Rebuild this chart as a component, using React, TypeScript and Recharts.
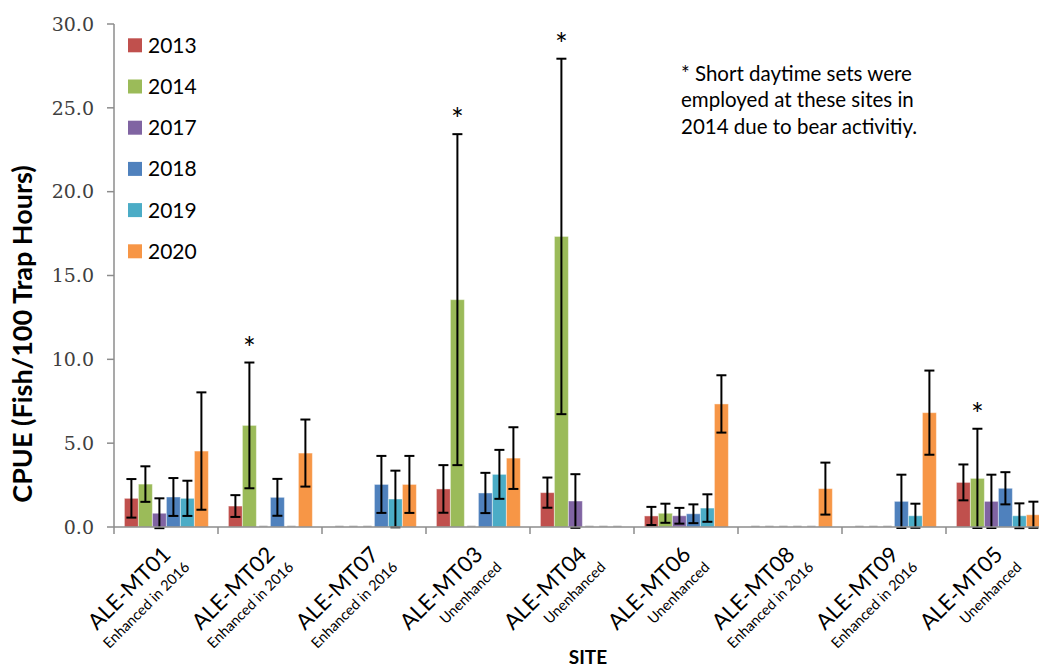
import React from 'react';
import { BarChart, Bar, XAxis, YAxis, ErrorBar, LabelList } from 'recharts';

const sites = ['ALE-MT01', 'ALE-MT02', 'ALE-MT07', 'ALE-MT03', 'ALE-MT04', 'ALE-MT06', 'ALE-MT08', 'ALE-MT09', 'ALE-MT05'];
const siteNotes = ['Enhanced in 2016', 'Enhanced in 2016', 'Enhanced in 2016', 'Unenhanced', 'Unenhanced', 'Unenhanced', 'Enhanced in 2016', 'Enhanced in 2016', 'Unenhanced'];
const years = ['2013', '2014', '2017', '2018', '2019', '2020'];
const colors = ['#C0504D', '#9BBB59', '#8064A2', '#4F81BD', '#4BACC6', '#F79646'];

const cpue2013 = [1.71, 1.25, 0, 2.27, 2.05, 0.66, 0, 0, 2.66];
const err2013 = [1.15, 0.65, 0, 1.42, 0.9, 0.54, 0, 0, 1.07];
const cpue2014 = [2.56, 6.06, 0, 13.56, 17.33, 0.82, 0, 0, 2.9];
const err2014 = [1.06, 3.75, 0, 9.87, 10.6, 0.57, 0, 0, 2.96];
const cpue2017 = [0.82, 0, 0, 0, 1.55, 0.67, 0, 0, 1.53];
const err2017 = [0.89, 0, 0, 0, 1.6, 0.47, 0, 0, 1.59];
const cpue2018 = [1.79, 1.77, 2.54, 2.03, 0, 0.79, 0, 1.53, 2.31];
const err2018 = [1.13, 1.1, 1.7, 1.2, 0, 0.56, 0, 1.59, 0.96];
const cpue2019 = [1.71, 0, 1.67, 3.14, 0, 1.13, 0, 0.67, 0.67];
const err2019 = [1.05, 0, 1.69, 1.46, 0, 0.82, 0, 0.72, 0.74];
const cpue2020 = [4.53, 4.41, 2.54, 4.11, 0, 7.34, 2.29, 6.82, 0.73];
const err2020 = [3.5, 2.0, 1.7, 1.84, 0, 1.71, 1.55, 2.51, 0.78];

const shortSets2014 = [false, true, false, true, true, false, false, false, true];
const yTicks = [0, 5, 10, 15, 20, 25, 30];

const cpueByYear = [cpue2013, cpue2014, cpue2017, cpue2018, cpue2019, cpue2020];
const errByYear = [err2013, err2014, err2017, err2018, err2019, err2020];

const rows = sites.map((site, i) => {
  const r: any = { site };
  years.forEach((yr, k) => {
    r['v' + yr] = cpueByYear[k][i];
    r['e' + yr] = errByYear[k][i] > 0 ? errByYear[k][i] : null;
  });
  return r;
});

const AXIS_GREY = '#8C8C8C';

const BarShape = (props: any) => {
  const { x, y, width, height, fill } = props;
  if (!height || Math.abs(height) < 0.5) {
    return (
      <line x1={x + width * 0.2} x2={x + width * 0.8} y1={y - 0.5} y2={y - 0.5} stroke="#C8C8C8" strokeWidth={2} />
    );
  }
  return <rect x={x} y={y} width={width} height={height} fill={fill} stroke="rgba(255,255,255,0.45)" strokeWidth={1} />;
};

const SiteTick = (props: any) => {
  const { x, y, payload } = props;
  const half = payload && typeof payload.offset === 'number' && payload.offset > 0 ? payload.offset : 52;
  const i = sites.indexOf(payload.value);
  return (
    <g>
      <line x1={x - half} x2={x - half} y1={y} y2={y + 7} stroke={AXIS_GREY} strokeWidth={1.5} />
      <g transform={`translate(${x + 6},${y + 29}) rotate(-45)`}>
        <text x={0} y={0} textAnchor="end" fontFamily="Lato" fontSize={22} fill="#000">{payload.value}</text>
        <text x={4.5} y={21.5} textAnchor="end" fontFamily="Lato" fontSize={14.5} fill="#000">{siteNotes[i]}</text>
      </g>
    </g>
  );
};

const Asterisk = (props: any) => {
  const { x, y, width, height, value, index } = props;
  if (index == null || !shortSets2014[index] || !value) return null;
  const errPx = (height * err2014[index]) / value;
  return (
    <text x={x + width / 2} y={y - errPx - 4} textAnchor="middle" fontFamily="Lato" fontSize={30} fill="#000">*</text>
  );
};

export default function App() {
  return (
    <div style={{ position: 'absolute', left: 0, top: 0, width: 1039, height: 667, overflow: 'hidden', background: '#fff' }}>
      <BarChart width={1070} height={667} data={rows} margin={{ top: 24, right: 20, left: 0, bottom: 0 }} barCategoryGap="10%" barGap={0}>
        <XAxis dataKey="site" height={140} interval={0} tickLine={false} tickSize={0} tickMargin={0}
          axisLine={{ stroke: AXIS_GREY, strokeWidth: 1.5 }} tick={<SiteTick />} />
        <YAxis width={114} type="number" domain={[0, 30]} ticks={yTicks} allowDataOverflow interval={0}
          tickFormatter={(v: number) => v.toFixed(1)}
          tick={{ fontFamily: 'DejaVu Serif', fontSize: 19, fill: '#404040' }}
          tickSize={7} tickMargin={13} tickLine={{ stroke: AXIS_GREY, strokeWidth: 1.5 }}
          axisLine={{ stroke: AXIS_GREY, strokeWidth: 1.5 }} />
        {years.map((yr, k) => (
          <Bar key={yr} dataKey={'v' + yr} name={yr} fill={colors[k]} isAnimationActive={false} shape={BarShape}>
            <ErrorBar dataKey={'e' + yr} width={5} stroke="#000" strokeWidth={2} direction="y" isAnimationActive={false} />
            {yr === '2014' ? <LabelList dataKey={'v' + yr} content={Asterisk} /> : null}
          </Bar>
        ))}
      </BarChart>
      <svg width={1039} height={667} style={{ position: 'absolute', left: 0, top: 0, pointerEvents: 'none' }}>
        <text x={32} y={334} transform="rotate(-90, 32, 334)" textAnchor="middle" fontFamily="Lato" fontWeight="bold" fontSize={27} fill="#000">CPUE (Fish/100 Trap Hours)</text>
        <text x={588} y={664} textAnchor="middle" fontFamily="Lato" fontWeight="bold" fontSize={19} fill="#000">SITE</text>
        <g fontFamily="Lato" fontSize={20.5} fill="#000">
          <text x={681} y={81}>* Short daytime sets were</text>
          <text x={681} y={107}>employed at these sites in</text>
          <text x={681} y={134}>2014 due to bear activitiy.</text>
        </g>
        {years.map((yr, k) => (
          <g key={yr}>
            <rect x={128} y={38.3 + k * 41.2} width={14} height={14} fill={colors[k]} />
            <text x={148} y={52.8 + k * 41.2} fontFamily="Lato" fontSize={21} fill="#000">{yr}</text>
          </g>
        ))}
      </svg>
    </div>
  );
}
